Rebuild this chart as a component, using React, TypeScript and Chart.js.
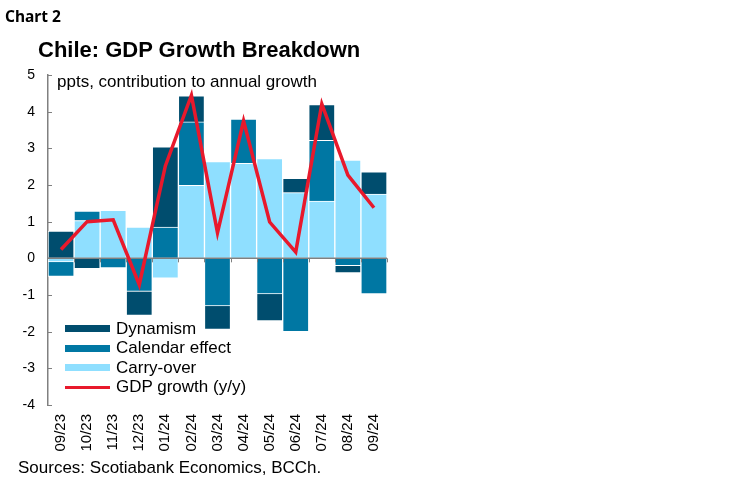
import React, { useEffect, useRef } from "react";
import { Chart, registerables } from "chart.js";

Chart.register(...registerables);

const categories = ["09/23", "10/23", "11/23", "12/23", "01/24", "02/24", "03/24", "04/24", "05/24", "06/24", "07/24", "08/24", "09/24"];
const carryOver = [-0.1, 1.03, 1.31, 0.85, -0.54, 1.99, 2.64, 2.59, 2.72, 1.79, 1.56, 2.68, 1.75];
const calendarEffect = [-0.39, 0.26, -0.26, -0.9, 0.85, 1.73, -1.3, 1.21, -0.97, -2.0, 1.66, -0.2, -0.97];
const dynamism = [0.74, -0.28, 0, -0.66, 2.19, 0.71, -0.64, 0, -0.74, 0.39, 0.97, -0.2, 0.61];
const gdpGrowth = [0.24, 1.0, 1.05, -0.72, 2.52, 4.45, 0.7, 3.75, 0.99, 0.17, 4.21, 2.27, 1.38];
const yTicks = [5, 4, 3, 2, 1, 0, -1, -2, -3, -4];

const C_DYN = "#004d6e";
const C_CAL = "#0077a3";
const C_CARRY = "#8fdfff";
const C_GDP = "#e8192c";
const AXIS = "#808080";

const axesPlugin = {
  id: "customAxes",
  beforeDatasetDraw(chart: any, args: any) {
    if (args.meta.type !== "line") return;
    const { ctx, chartArea, scales } = chart;
    const y0 = scales.y.getPixelForValue(0);
    ctx.save();
    ctx.strokeStyle = AXIS;
    ctx.lineWidth = 1.5;
    ctx.beginPath();
    ctx.moveTo(chartArea.left, y0);
    ctx.lineTo(chartArea.right, y0);
    ctx.stroke();
    const n = categories.length;
    const w = (chartArea.right - chartArea.left) / n;
    ctx.lineWidth = 1;
    for (let i = 1; i <= n; i++) {
      const x = Math.round(chartArea.left + i * w) + 0.5;
      ctx.beginPath();
      ctx.moveTo(x, y0);
      ctx.lineTo(x, y0 + 4);
      ctx.stroke();
    }
    for (const v of yTicks) {
      const y = Math.round(scales.y.getPixelForValue(v)) + 0.5;
      ctx.beginPath();
      ctx.moveTo(chartArea.left, y);
      ctx.lineTo(chartArea.left + 4, y);
      ctx.stroke();
    }
    ctx.restore();
  },
};

function ChartBox() {
  const ref = useRef<HTMLCanvasElement | null>(null);
  useEffect(() => {
    if (!ref.current) return;
    const chart = new Chart(ref.current, {
      type: "bar",
      data: {
        labels: categories,
        datasets: [
          {
            type: "line",
            label: "GDP growth (y/y)",
            data: gdpGrowth,
            borderColor: C_GDP,
            backgroundColor: C_GDP,
            borderWidth: 3.5,
            pointRadius: 0,
            tension: 0,
            stack: "gdp",
            order: 0,
          } as any,
          {
            label: "Carry-over",
            data: carryOver,
            backgroundColor: C_CARRY,
            borderColor: "#ffffff",
            borderWidth: 1,
            stack: "bars",
            order: 1,
          },
          {
            label: "Calendar effect",
            data: calendarEffect,
            backgroundColor: C_CAL,
            borderColor: "#ffffff",
            borderWidth: 1,
            stack: "bars",
            order: 1,
          },
          {
            label: "Dynamism",
            data: dynamism,
            backgroundColor: C_DYN,
            borderColor: "#ffffff",
            borderWidth: 1,
            stack: "bars",
            order: 1,
          },
        ],
      },
      options: {
        animation: false,
        responsive: false,
        maintainAspectRatio: false,
        datasets: { bar: { barPercentage: 1, categoryPercentage: 1 } },
        layout: { padding: { top: 75, left: 0, right: 362, bottom: 0 } },
        plugins: { legend: { display: false }, tooltip: { enabled: false }, title: { display: false } },
        scales: {
          x: {
            stacked: true,
            grid: { display: false },
            border: { display: false },
            ticks: {
              color: "#000",
              font: { family: "Liberation Sans", size: 15 },
              maxRotation: 90,
              minRotation: 90,
              padding: 1,
              autoSkip: false,
            },
            afterFit(scale: any) {
              scale.height = 77;
            },
          },
          y: {
            stacked: true,
            min: -4,
            max: 5,
            grid: { display: true, drawOnChartArea: false, drawTicks: false },
            border: { display: true, color: AXIS, width: 1.5 },
            ticks: {
              stepSize: 1,
              color: "#000",
              font: { family: "Liberation Sans", size: 14 },
              padding: 13,
            },
            afterFit(scale: any) {
              scale.width = 48;
            },
          },
        },
      },
      plugins: [axesPlugin],
    } as any);
    return () => chart.destroy();
  }, []);
  return <canvas ref={ref} width={749} height={482} style={{ position: "absolute", left: 0, top: 0, width: 749, height: 482 }} />;
}

const legendItems = [
  { label: "Dynamism", color: C_DYN, line: false },
  { label: "Calendar effect", color: C_CAL, line: false },
  { label: "Carry-over", color: C_CARRY, line: false },
  { label: "GDP growth (y/y)", color: C_GDP, line: true },
];

export default function App() {
  return (
    <div style={{ position: "absolute", left: 0, top: 0, width: 749, height: 482, background: "#fff", overflow: "hidden" }}>
      <ChartBox />
      <div style={{ position: "absolute", left: 5, top: 5, fontFamily: "Noto Sans", fontWeight: 700, fontSize: 15.5, color: "#000", whiteSpace: "nowrap" }}>Chart 2</div>
      <div style={{ position: "absolute", left: 38, top: 37, fontFamily: "Liberation Sans", fontWeight: 700, fontSize: 22, color: "#000", whiteSpace: "nowrap" }}>
        Chile: GDP Growth Breakdown
      </div>
      <div style={{ position: "absolute", left: 57, top: 72, fontFamily: "Liberation Sans", fontSize: 17, color: "#000", whiteSpace: "nowrap" }}>
        ppts, contribution to annual growth
      </div>
      {legendItems.map((it, i) => (
        <div key={it.label} style={{ position: "absolute", left: 65, top: 318.5 + i * 19.6, height: 20, display: "flex", alignItems: "center" }}>
          <div style={{ width: 45, height: it.line ? 3 : 7, background: it.color, marginRight: 6 }} />
          <span style={{ fontFamily: "Liberation Sans", fontSize: 17, color: "#000", whiteSpace: "nowrap" }}>{it.label}</span>
        </div>
      ))}
      <div style={{ position: "absolute", left: 18, top: 458, fontFamily: "Liberation Sans", fontSize: 17, color: "#000", whiteSpace: "nowrap" }}>
        Sources: Scotiabank Economics, BCCh.
      </div>
    </div>
  );
}
